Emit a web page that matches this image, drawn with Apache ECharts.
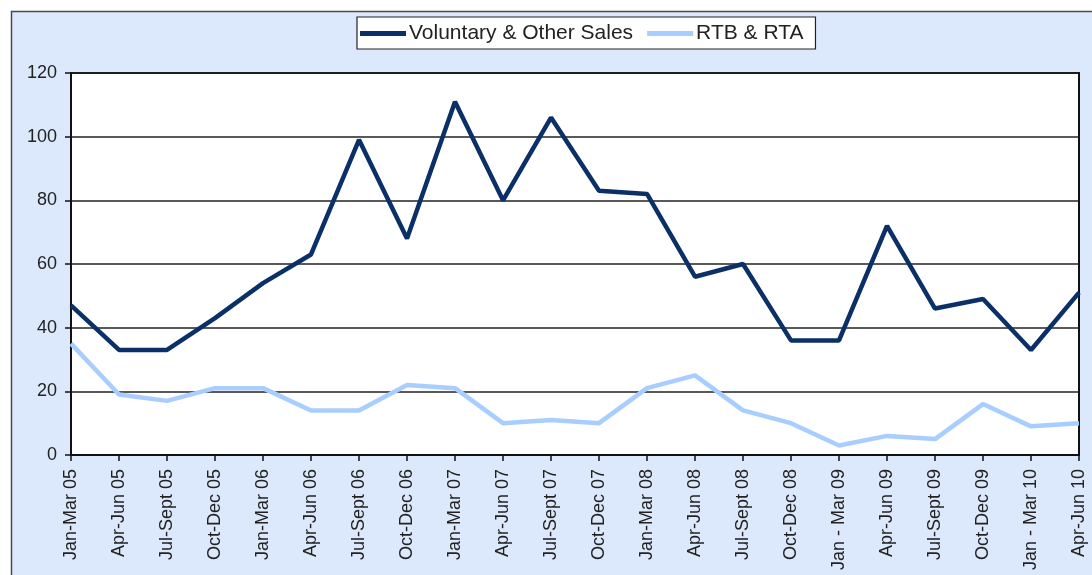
<!DOCTYPE html>
<html>
<head>
<meta charset="utf-8">
<script src="https://cdn.jsdelivr.net/npm/echarts@6/dist/echarts.min.js"></script>
<style>html,body{margin:0;padding:0;background:#fff}#c{width:1092px;height:575px}</style>
</head>
<body>
<div id="c"></div>
<script>
const categories = ["Jan-Mar 05","Apr-Jun 05","Jul-Sept 05","Oct-Dec 05","Jan-Mar 06","Apr-Jun 06","Jul-Sept 06","Oct-Dec 06","Jan-Mar 07","Apr-Jun 07","Jul-Sept 07","Oct-Dec 07","Jan-Mar 08","Apr-Jun 08","Jul-Sept 08","Oct-Dec 08","Jan - Mar 09","Apr-Jun 09","Jul-Sept 09","Oct-Dec 09","Jan - Mar 10","Apr-Jun 10"];
const voluntary = [47,33,33,43,54,63,99,68,111,80,106,83,82,56,60,36,36,72,46,49,33,51];
const rtb = [35,19,17,21,21,14,14,22,21,10,11,10,21,25,14,10,3,6,5,16,9,10];
const yTicks = {min:0, max:120, interval:20};

const chart = echarts.init(document.getElementById('c'), null, {renderer:'canvas'});
const font = '"Liberation Sans", Arial, sans-serif';
chart.setOption({
  backgroundColor:'#ffffff',
  animation:false,
  graphic:[{
    type:'rect', z:-10, silent:true,
    shape:{x:11.5, y:11.5, width:1100, height:600},
    style:{fill:'#dce9fc', stroke:'#4a4a4a', lineWidth:1.5}
  }],
  legend:{
    top:17, left:357,
    backgroundColor:'#ffffff', borderColor:'#222', borderWidth:1.2,
    padding:[6,12,5,3],
    itemWidth:46, itemHeight:5, itemGap:14,
    icon:'rect',
    textStyle:{fontFamily:font, fontSize:21, color:'#222', padding:[0,0,0,-2]},
    data:['Voluntary & Other Sales','RTB & RTA']
  },
  grid:{left:71, top:73, width:1008, height:382, show:true, backgroundColor:'#ffffff', borderColor:'#111', borderWidth:2, containLabel:false},
  xAxis:{
    type:'category', data:categories, boundaryGap:false,
    axisLine:{lineStyle:{color:'#111', width:2}},
    axisTick:{show:true, length:6, lineStyle:{color:'#111', width:1.5}, alignWithLabel:true},
    axisLabel:{rotate:90, interval:0, fontFamily:font, fontSize:18, color:'#222', margin:14},
    splitLine:{show:false}
  },
  yAxis:{
    type:'value', min:yTicks.min, max:yTicks.max, interval:yTicks.interval,
    axisLine:{show:true, lineStyle:{color:'#111', width:2}},
    axisTick:{show:true, length:6, lineStyle:{color:'#111', width:1.5}},
    axisLabel:{fontFamily:font, fontSize:18, color:'#222', margin:14},
    splitLine:{show:true, lineStyle:{color:'#222', width:1.5}}
  },
  series:[
    {name:'Voluntary & Other Sales', type:'line', data:voluntary, symbol:'none', lineStyle:{color:'#0b3068', width:4.5}, itemStyle:{color:'#0b3068'}},
    {name:'RTB & RTA', type:'line', data:rtb, symbol:'none', lineStyle:{color:'#a8cdff', width:4.5}, itemStyle:{color:'#a8cdff'}}
  ]
});
</script>
</body>
</html>
